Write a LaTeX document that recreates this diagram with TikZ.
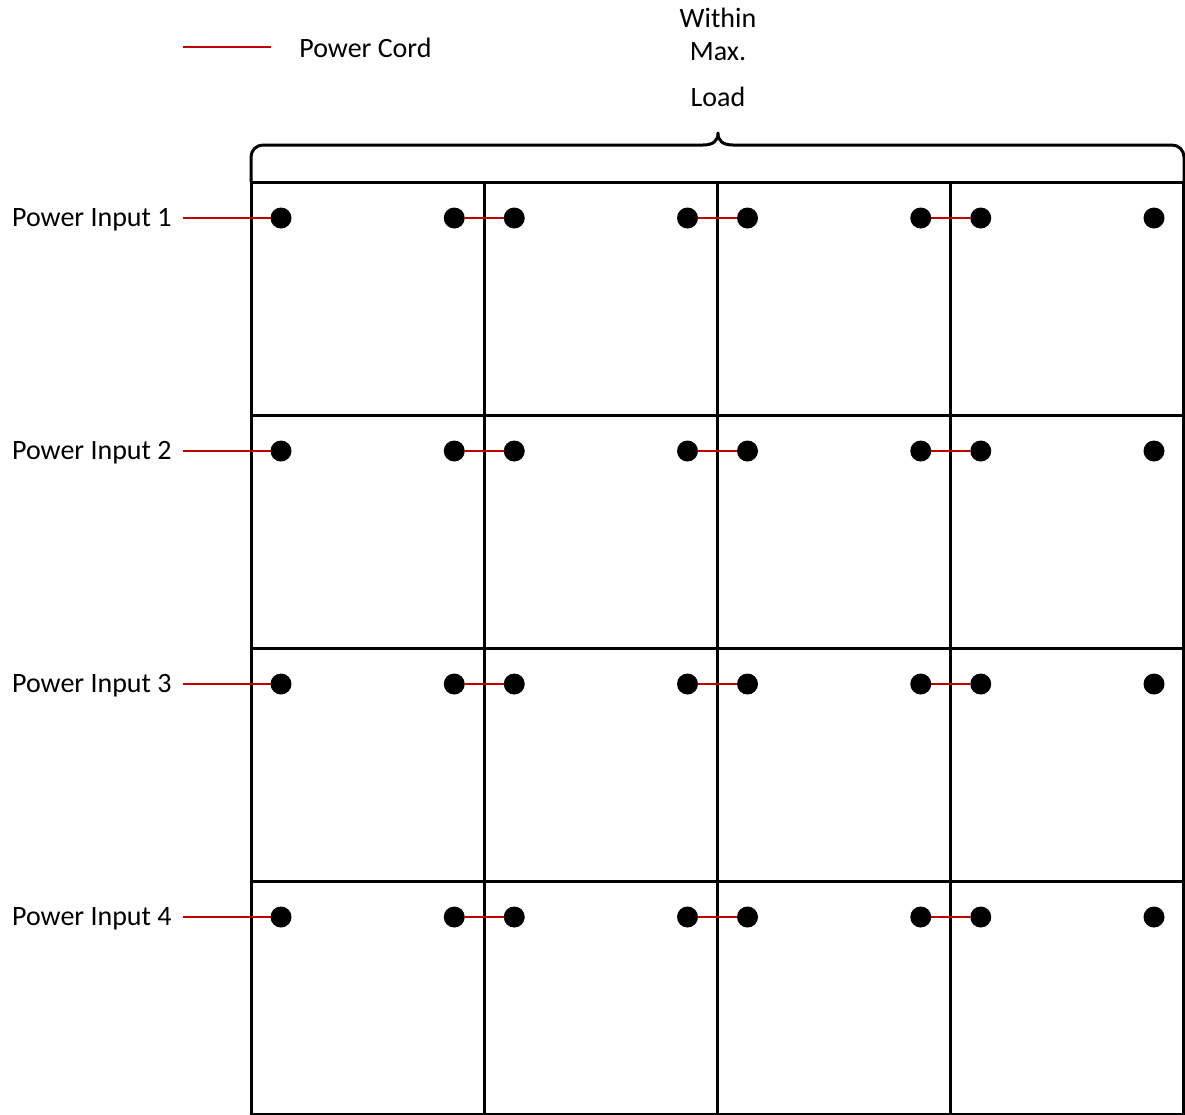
\documentclass[tikz,border=0pt]{standalone}
\usepackage{fontspec}
\setmainfont{Carlito}
\definecolor{cordred}{RGB}{192,0,0}
\begin{document}
\begin{tikzpicture}[x=0.5pt,y=-0.5pt,
  box/.style={draw,line width=1.5pt,minimum width=116.6pt,minimum height=116.5pt,inner sep=0,outer sep=0},
  pdot/.style={circle,fill=black,minimum size=10.5pt,inner sep=0,outer sep=0},
  cord/.style={draw=cordred,line width=0.8pt},
  lbl/.style={font=\fontsize{14}{17}\selectfont,inner sep=0},
  brace/.style={draw,line width=1.5pt,line join=round}]
\path[use as bounding box] (0,0) rectangle (1185,1115);
% boxes and dots
\foreach \r in {1,...,4}{
  \foreach \c in {1,...,4}{
    \node[box] (b\r\c) at ({251+233.25*(\c-0.5)},{182+233*(\r-0.5)}) {};
    \node[pdot] (L\r\c) at ({251+233.25*(\c-1)+30},{182+233*(\r-1)+36}) {};
    \node[pdot] (R\r\c) at ({251+233.25*\c-30},{182+233*(\r-1)+36}) {};
  }
  \foreach \c/\n in {1/2,2/3,3/4}{
    \draw[cord] (R\r\c.east) -- (L\r\n.west);
  }
  \node[lbl,anchor=east,inner xsep=5.5pt] (p\r) at (183,{182+233*(\r-1)+37.5}) {Power Input \r};
  \draw[cord] (p\r.east |- L\r1.west) -- (L\r1.west);
}
% brace
\draw[brace] (251,182) -- (251,157) arc[start angle=180,end angle=270,radius=12] -- (703,145)
  .. controls (713,145) and (718,141) .. (718,133)
  .. controls (718,141) and (723,145) .. (733,145)
  -- (1172,145) arc[start angle=270,end angle=360,radius=12] -- (1184,182);
\node[lbl] (t1) at (718,18) {Within};
\node[lbl] (t2) at (718,52) {Max.};
\node[lbl] (t3) at (718,97) {Load};
% legend
\coordinate (lg1) at (183,47);
\coordinate (lg2) at (271,47);
\draw[cord] (lg1) -- (lg2);
\node[lbl,anchor=west] (lgt) at (299,48) {Power Cord};
\end{tikzpicture}
\end{document}
